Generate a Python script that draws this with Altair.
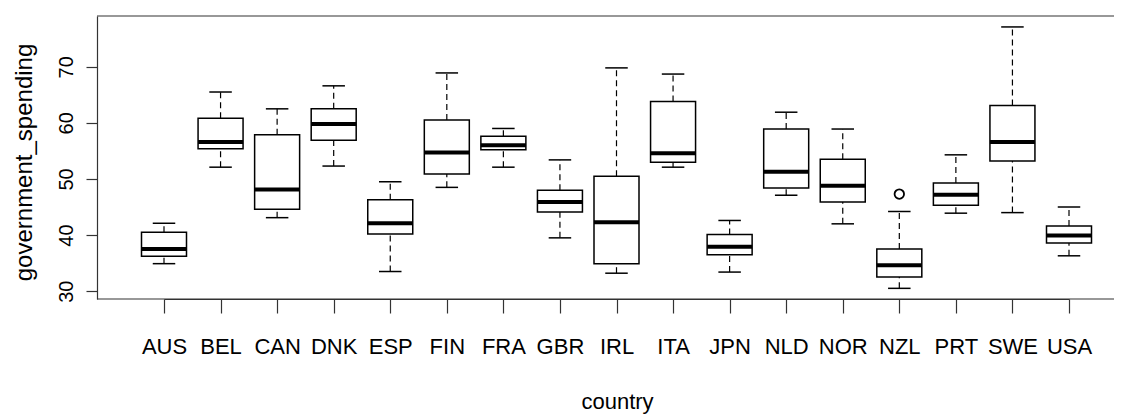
import altair as alt
import pandas as pd

countries = ["AUS", "BEL", "CAN", "DNK", "ESP", "FIN", "FRA", "GBR", "IRL",
             "ITA", "JPN", "NLD", "NOR", "NZL", "PRT", "SWE", "USA"]
whisker_low = [34.9, 52.1, 43.1, 52.3, 33.5, 48.5, 52.1, 39.5, 33.2,
               52.1, 33.4, 47.1, 42.0, 30.5, 43.9, 44.0, 36.3]
q1 = [36.2, 55.4, 44.6, 56.9, 40.2, 50.9, 55.2, 44.1, 34.9,
      53.0, 36.5, 48.4, 45.9, 32.5, 45.3, 53.2, 38.6]
median = [37.5, 56.6, 48.1, 59.8, 42.1, 54.7, 56.0, 45.9, 42.3,
          54.6, 37.9, 51.3, 48.8, 34.6, 47.2, 56.6, 39.9]
q3 = [40.5, 60.8, 57.9, 62.5, 46.3, 60.5, 57.6, 48.0, 50.5,
      63.8, 40.1, 58.9, 53.5, 37.5, 49.3, 63.1, 41.6]
whisker_high = [42.1, 65.5, 62.5, 66.6, 49.5, 68.9, 59.0, 53.4, 69.8,
                68.7, 42.6, 61.9, 58.9, 44.2, 54.3, 77.1, 45.0]
outlier_countries = ["NZL"]
outlier_values = [47.3]
y_ticks = [30, 40, 50, 60, 70]

df = pd.DataFrame({
    "country": countries,
    "lo": whisker_low,
    "q1": q1,
    "med": median,
    "q3": q3,
    "hi": whisker_high,
})
out_df = pd.DataFrame({"country": outlier_countries, "value": outlier_values})
frame_df = pd.DataFrame({"k": [0]})

W, H = 1017, 283
INK = "#000000"
FRAME = "#333333"
SANS = "Liberation Sans, Arial, Helvetica, sans-serif"

x_axis = alt.Axis(
    title="country", grid=False, domain=True, domainColor=FRAME, domainWidth=1.2,
    ticks=True, tickSize=14, tickColor=FRAME, tickWidth=1.2,
    labelAngle=0, labelFont=SANS, labelFontSize=22, labelColor=INK,
    labelBaseline="alphabetic", labelPadding=40, labelOverlap=False,
    titleFont=SANS, titleFontSize=22, titleFontWeight="normal", titleColor=INK,
    titleX=520, titleY=109, titleAlign="center", titleBaseline="alphabetic",
)
y_axis = alt.Axis(
    title="government_spending", grid=False, values=y_ticks,
    domain=True, domainColor=FRAME, domainWidth=1.2,
    ticks=True, tickSize=11, tickColor=FRAME, tickWidth=1.2,
    labelAngle=270, labelAlign="center", labelBaseline="alphabetic",
    labelPadding=14, labelFont=SANS, labelFontSize=20, labelColor=INK,
    labelOverlap=False,
    titleFont=SANS, titleFontSize=24, titleFontWeight="normal", titleColor=INK,
    titleAngle=270, titleX=-66, titleY=146, titleAlign="center",
    titleBaseline="alphabetic",
)

x_enc = alt.X("country:N", sort=countries,
              scale=alt.Scale(type="point", range=[67, 972], padding=0), axis=x_axis)
y_scale = alt.Scale(domain=[28.6, 79.05], nice=False, zero=False)

base = alt.Chart(df)

upper = base.mark_rule(color=INK, strokeWidth=1.2, strokeDash=[6, 4], opacity=1).encode(
    x=x_enc, y=alt.Y("q3:Q", scale=y_scale, axis=y_axis), y2="hi:Q")
lower = base.mark_rule(color=INK, strokeWidth=1.2, strokeDash=[6, 4], opacity=1).encode(
    x=x_enc, y=alt.Y("lo:Q", scale=y_scale, axis=y_axis), y2="q1:Q")
box = base.mark_bar(size=45, fill="white", stroke=INK, strokeWidth=1.5, opacity=1).encode(
    x=x_enc, y=alt.Y("q1:Q", scale=y_scale, axis=y_axis), y2="q3:Q")
med = base.mark_tick(size=45, thickness=4, color=INK, opacity=1).encode(
    x=x_enc, y=alt.Y("med:Q", scale=y_scale, axis=y_axis))
cap_hi = base.mark_tick(size=22.5, thickness=1.5, color=INK, opacity=1).encode(
    x=x_enc, y=alt.Y("hi:Q", scale=y_scale, axis=y_axis))
cap_lo = base.mark_tick(size=22.5, thickness=1.5, color=INK, opacity=1).encode(
    x=x_enc, y=alt.Y("lo:Q", scale=y_scale, axis=y_axis))
outl = alt.Chart(out_df).mark_point(shape="circle", filled=False, size=90,
                                    strokeWidth=1.8, color=INK, opacity=1).encode(
    x=x_enc, y=alt.Y("value:Q", scale=y_scale, axis=y_axis))
top_line = alt.Chart(frame_df).mark_rule(color=FRAME, strokeWidth=1.2).encode(
    x=alt.value(0), x2=alt.value(W), y=alt.value(0))
bottom_line = alt.Chart(frame_df).mark_rule(color=FRAME, strokeWidth=1.2).encode(
    x=alt.value(0), x2=alt.value(W), y=alt.value(H))

chart = alt.layer(upper, lower, box, med, cap_hi, cap_lo, outl, top_line, bottom_line).properties(
    width=W, height=H,
    autosize=alt.AutoSizeParams(type="none"),
    padding={"left": 89, "top": 8, "right": 0, "bottom": 115},
    background="white",
).configure_view(strokeWidth=0)

chart.save("out.html", embed_options={"renderer": "svg", "actions": False})
